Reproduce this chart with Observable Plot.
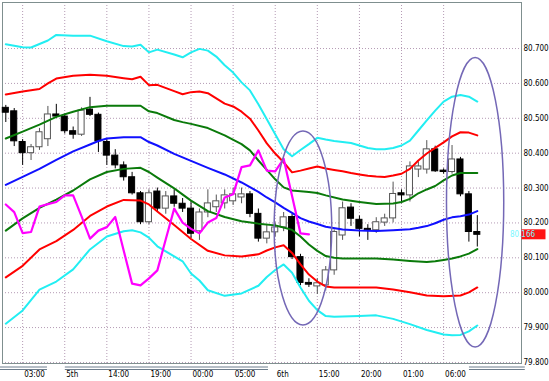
<!DOCTYPE html>
<html><head><meta charset="utf-8">
<script src="https://cdn.jsdelivr.net/npm/d3@7"></script>
<script src="https://cdn.jsdelivr.net/npm/@observablehq/plot@0.6"></script>
<style>
html,body{margin:0;padding:0;background:#fff;}
#chart svg{display:block;}
</style></head><body><div id="chart"></div>
<script>
// ---- axis labels ----
const tickIndex = [2, 7, 12, 17, 22, 27, 32, 37, 42, 47, 52];
const tickLabels = ["03:00", "5th", "14:00", "19:00", "00:00", "05:00", "6th", "15:00", "20:00", "01:00", "06:00"];
const priceTicks = [79.8, 79.9, 80.0, 80.1, 80.2, 80.3, 80.4, 80.5, 80.6, 80.7];
const lastPrice = 80.166;

// ---- hourly candles (index 0..56) ----
const open  = [80.530,80.520,80.432,80.400,80.417,80.440,80.511,80.505,80.463,80.453,80.525,80.510,80.432,80.393,80.365,80.331,80.285,80.202,80.290,80.241,80.276,80.255,80.241,80.176,80.230,80.245,80.256,80.262,80.273,80.282,80.226,80.155,80.173,80.187,80.217,80.102,80.028,80.018,80.021,80.064,80.164,80.244,80.209,80.183,80.179,80.201,80.213,80.285,80.279,80.353,80.353,80.411,80.350,80.346,80.382,80.282,80.174];
const high  = [80.537,80.528,80.439,80.425,80.471,80.534,80.540,80.512,80.475,80.530,80.560,80.515,80.440,80.410,80.375,80.345,80.290,80.295,80.300,80.290,80.295,80.270,80.262,80.240,80.295,80.280,80.295,80.300,80.300,80.290,80.240,80.195,80.200,80.230,80.225,80.110,80.040,80.040,80.075,80.180,80.260,80.255,80.220,80.195,80.215,80.225,80.317,80.295,80.375,80.375,80.436,80.420,80.355,80.422,80.388,80.290,80.221];
const low   = [80.488,80.419,80.365,80.379,80.408,80.419,80.500,80.455,80.440,80.448,80.505,80.402,80.365,80.355,80.320,80.280,80.195,80.195,80.230,80.225,80.245,80.230,80.155,80.150,80.215,80.230,80.240,80.250,80.255,80.215,80.145,80.140,80.160,80.175,80.095,80.020,80.015,79.995,80.005,80.050,80.150,80.190,80.160,80.150,80.170,80.190,80.200,80.255,80.260,80.330,80.340,80.345,80.340,80.340,80.275,80.145,80.131];
const close = [80.516,80.434,80.400,80.417,80.460,80.511,80.505,80.463,80.453,80.522,80.510,80.434,80.393,80.365,80.331,80.285,80.202,80.285,80.241,80.276,80.255,80.241,80.169,80.230,80.256,80.262,80.279,80.282,80.282,80.226,80.155,80.173,80.187,80.216,80.102,80.028,80.023,80.027,80.064,80.174,80.242,80.212,80.183,80.179,80.202,80.213,80.283,80.279,80.362,80.362,80.411,80.348,80.346,80.382,80.282,80.174,80.166];

// ---- band readings: [candle index, price] ----
const cyanUpper = [[0,80.712],[2,80.704],[3,80.703],[5,80.723],[6,80.739],[8,80.737],[10,80.737],[12,80.721],[14,80.707],[15,80.706],[16,80.711],[17,80.689],[18,80.697],[20,80.683],[21,80.675],[22,80.689],[23,80.699],[24,80.694],[25,80.677],[26,80.652],[27,80.631],[28,80.603],[29,80.580],[30,80.540],[31,80.497],[32,80.454],[33,80.411],[34,80.391],[35,80.409],[36,80.426],[37,80.444],[38,80.439],[39,80.435],[40,80.432],[41,80.429],[42,80.422],[43,80.415],[44,80.411],[45,80.411],[46,80.415],[47,80.422],[48,80.436],[49,80.465],[50,80.494],[51,80.522],[52,80.548],[53,80.562],[54,80.567],[55,80.562],[56,80.548]];
const redUpper = [[0,80.568],[2,80.577],[4,80.584],[5,80.600],[6,80.614],[8,80.622],[10,80.625],[12,80.622],[14,80.615],[15,80.612],[16,80.619],[17,80.595],[18,80.596],[20,80.578],[21,80.569],[22,80.575],[23,80.577],[24,80.572],[25,80.557],[26,80.542],[27,80.534],[28,80.519],[29,80.499],[30,80.465],[31,80.428],[32,80.399],[33,80.374],[34,80.345],[35,80.350],[36,80.356],[37,80.362],[38,80.356],[39,80.352],[40,80.348],[41,80.343],[42,80.339],[43,80.335],[44,80.333],[45,80.332],[46,80.336],[47,80.341],[48,80.355],[49,80.379],[50,80.399],[51,80.415],[52,80.431],[53,80.448],[54,80.460],[55,80.459],[56,80.451]];
const greenUpper = [[0,80.442],[2,80.462],[4,80.482],[6,80.504],[8,80.519],[10,80.532],[12,80.536],[14,80.536],[16,80.536],[17,80.520],[18,80.515],[20,80.495],[21,80.489],[22,80.484],[24,80.472],[26,80.451],[28,80.426],[29,80.408],[30,80.379],[31,80.352],[32,80.325],[33,80.302],[34,80.293],[36,80.289],[37,80.286],[38,80.279],[40,80.267],[42,80.260],[44,80.254],[46,80.256],[47,80.260],[48,80.269],[49,80.285],[50,80.296],[51,80.306],[52,80.322],[53,80.336],[54,80.343],[55,80.343],[56,80.343]];
const middle = [[0,80.309],[2,80.332],[4,80.355],[6,80.381],[8,80.405],[10,80.425],[11,80.435],[12,80.442],[14,80.446],[16,80.446],[17,80.432],[18,80.422],[20,80.398],[22,80.378],[24,80.358],[26,80.339],[28,80.316],[29,80.303],[30,80.289],[31,80.273],[32,80.259],[33,80.243],[34,80.229],[35,80.214],[36,80.204],[37,80.197],[38,80.189],[40,80.181],[42,80.178],[44,80.177],[46,80.179],[48,80.182],[49,80.186],[50,80.191],[51,80.199],[52,80.209],[53,80.216],[54,80.219],[55,80.224],[56,80.234]];
const greenLower = [[0,80.178],[2,80.213],[4,80.243],[6,80.267],[8,80.293],[10,80.325],[12,80.346],[14,80.355],[16,80.358],[17,80.346],[18,80.330],[20,80.299],[22,80.264],[24,80.234],[26,80.217],[28,80.205],[30,80.198],[32,80.193],[33,80.187],[34,80.180],[35,80.161],[36,80.138],[37,80.120],[38,80.105],[39,80.100],[40,80.098],[42,80.098],[44,80.098],[46,80.095],[48,80.091],[50,80.088],[51,80.090],[52,80.094],[53,80.098],[54,80.104],[55,80.112],[56,80.125]];
const redLower = [[0,80.044],[2,80.077],[4,80.124],[6,80.148],[8,80.180],[10,80.220],[12,80.247],[14,80.266],[16,80.264],[17,80.253],[18,80.233],[20,80.194],[22,80.154],[24,80.120],[26,80.107],[28,80.104],[30,80.110],[31,80.121],[32,80.130],[33,80.136],[34,80.114],[35,80.081],[36,80.052],[37,80.032],[38,80.018],[39,80.015],[42,80.015],[44,80.015],[46,80.009],[48,80.001],[50,79.992],[52,79.990],[54,79.992],[55,80.001],[56,80.015]];
const cyanLower = [[0,79.911],[2,79.949],[4,80.009],[6,80.032],[8,80.067],[10,80.124],[12,80.161],[14,80.176],[15,80.179],[16,80.173],[17,80.158],[18,80.133],[20,80.104],[21,80.090],[22,80.055],[23,80.035],[24,80.007],[26,79.991],[28,79.998],[30,80.020],[31,80.045],[32,80.065],[33,80.081],[34,80.057],[35,80.015],[36,79.977],[37,79.950],[38,79.933],[39,79.931],[40,79.932],[42,79.933],[44,79.935],[46,79.925],[48,79.910],[50,79.893],[52,79.880],[53,79.878],[54,79.879],[55,79.889],[56,79.906]];
// magenta line, candle index 0..36
const magenta = [80.253,80.231,80.171,80.174,80.247,80.254,80.260,80.279,80.279,80.219,80.155,80.178,80.188,80.217,80.121,80.026,80.021,80.041,80.064,80.153,80.241,80.201,80.183,80.170,80.201,80.214,80.273,80.282,80.360,80.365,80.408,80.350,80.348,80.384,80.277,80.170,80.167];

// ---- annotations (data units: index, price) ----
const ellipses = [
  {cx: 35.35, cy: 80.184, rx: 3.42, ry: 0.278},
  {cx: 55.8, cy: 80.258, rx: 3.4, ry: 0.415}
];
const scrollSegments = [[-0.63, 4.95], [7.07, 31.2], [55.07, 61.7]];

const candles = open.map((o, i) => ({i, o, h: high[i], l: low[i], c: close[i], up: close[i] >= o}));
const pts = arr => arr.map(([i, p]) => ({i, p}));
const magPts = magenta.map((p, i) => ({i, p}));

const band = (arr, color) => Plot.line(pts(arr), {x: "i", y: "p", stroke: color, strokeWidth: 2, curve: "linear"});

const chart = Plot.plot({
  width: 549, height: 381,
  marginLeft: 2, marginRight: 28, marginTop: 2, marginBottom: 18,
  x: {domain: [-0.392, 61.25], label: null},
  y: {domain: [79.797, 80.832], label: null},
  style: {background: "#ffffff", fontFamily: "'DejaVu Sans Condensed', 'DejaVu Sans', sans-serif", fontSize: "8px", color: "#000"},
  marks: [
    Plot.gridX(tickIndex, {stroke: "#b49ab4", strokeOpacity: 1, strokeDasharray: "1,2"}),
    Plot.gridY(priceTicks, {stroke: "#b49ab4", strokeOpacity: 1, strokeDasharray: "1,2"}),
    Plot.frame({stroke: "#7f8f8f"}),
    Plot.ruleX(candles, {x: "i", y1: "l", y2: "h", stroke: d => d.up ? "#555555" : "#000000", strokeWidth: 1}),
    Plot.rect(candles, {x1: d => d.i - 0.36, x2: d => d.i + 0.36, y1: "o", y2: "c",
      fill: d => d.up ? "#ffffff" : "#000000", stroke: d => d.up ? "#555555" : "#000000", strokeWidth: 1}),
    band(cyanUpper, "#22eef2"),
    band(cyanLower, "#22eef2"),
    band(redUpper, "#ff0000"),
    band(redLower, "#ff0000"),
    band(greenUpper, "#0a7a0a"),
    band(greenLower, "#0a7a0a"),
    band(middle, "#1010ff"),
    Plot.line(magPts, {x: "i", y: "p", stroke: "#ff00ff", strokeWidth: 2.2}),
    Plot.axisX({ticks: tickIndex, tickFormat: d => tickLabels[tickIndex.indexOf(d)], tickSize: 0, tickPadding: 8, textAnchor: "start", dx: 1.5, fill: "#000", label: null}),
    Plot.axisY({anchor: "right", ticks: priceTicks, tickFormat: d3.format(".3f"), tickSize: 0, tickPadding: 2, fill: "#000", label: null})
  ]
});
document.getElementById("chart").appendChild(chart);

// annotations positioned through the plot's scales
const sx = chart.scale("x"), sy = chart.scale("y");
const X = v => sx.apply(v), Y = v => sy.apply(v);
const svg = d3.select(chart);
const g = svg.append("g");
ellipses.forEach(e => {
  g.append("ellipse")
    .attr("cx", X(e.cx)).attr("cy", Y(e.cy))
    .attr("rx", X(e.cx + e.rx) - X(e.cx)).attr("ry", Y(e.cy - e.ry) - Y(e.cy))
    .attr("fill", "none").attr("stroke", "#7468b6").attr("stroke-width", 1.5);
});
const bottom = Y(79.797);
scrollSegments.forEach(([a, b]) => {
  [4, 6.5].forEach(off => {
    g.append("line").attr("x1", X(a)).attr("x2", X(b))
      .attr("y1", bottom + off).attr("y2", bottom + off)
      .attr("stroke", "#6d7d8d").attr("stroke-width", 1);
  });
});
const py = Y(lastPrice);
g.append("rect").attr("x", 521.5).attr("y", py - 5).attr("width", 24).attr("height", 10)
  .attr("fill", "#ff1414").style("fill", "#ff1414").style("stroke", "none");
g.append("text").attr("x", 522.5).attr("y", py + 3)
  .attr("font-size", "8px").attr("font-family", "'DejaVu Sans Condensed', sans-serif")
  .style("fill", "#7af7ff").text(lastPrice.toFixed(3));
</script>
</body></html>
